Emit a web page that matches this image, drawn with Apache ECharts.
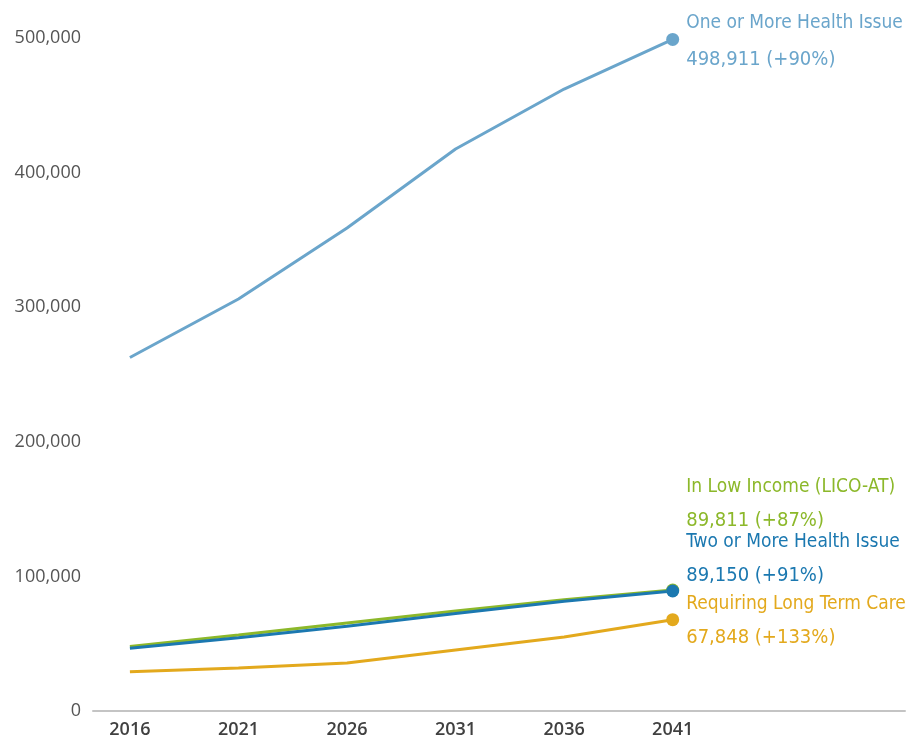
<!DOCTYPE html>
<html>
<head>
<meta charset="utf-8">
<title>Seniors projection</title>
<script src="https://cdn.jsdelivr.net/npm/echarts@6/dist/echarts.min.js"></script>
<style>
  html, body { margin: 0; padding: 0; background: #fff; }
  #chart { width: 911px; height: 739px; }
</style>
</head>
<body>
<div id="chart"></div>
<script>
// years and values
var years = [2016, 2021, 2026, 2031, 2036, 2041];
var yTicks = [0, 100000, 200000, 300000, 400000, 500000];

var oneOrMore = [262600, 306100, 358800, 417500, 462100, 498911];
var lowIncome = [48000, 56500, 65400, 74300, 82600, 89811];
var twoOrMore = [46700, 54500, 63000, 72400, 81500, 89150];
var longTermCare = [29100, 32000, 35700, 45300, 55000, 67848];

var names = ['One or More Health Issue', 'In Low Income (LICO-AT)', 'Two or More Health Issue', 'Requiring Long Term Care'];
var endText = ['498,911 (+90%)', '89,811 (+87%)', '89,150 (+91%)', '67,848 (+133%)'];
var colors = ['#6aa5cb', '#8cb82a', '#1b78b0', '#e3a91d'];

var labelFont = '"Liberation Sans Narrow", "DejaVu Sans Condensed", "Roboto", sans-serif';

function pairs(vals) {
    return vals.map(function (v, i) { return [years[i], v]; });
}

function makeSeries(idx, vals, offsetY, gap) {
    var last = vals.length - 1;
    return {
        name: names[idx],
        type: 'line',
        data: pairs(vals),
        clip: false,
        smooth: false,
        symbol: 'circle',
        symbolSize: function (val, params) { return params.dataIndex === last ? 13 : 0; },
        lineStyle: { color: colors[idx], width: 3 },
        itemStyle: { color: colors[idx] },
        label: {
            show: true,
            position: 'right',
            distance: 7,
            offset: [0, offsetY],
            formatter: function (p) {
                if (p.dataIndex !== last) return '';
                return '{t|' + names[idx] + '}\n{v|' + endText[idx] + '}';
            },
            rich: {
                t: { fontFamily: labelFont, fontSize: 19, color: colors[idx], height: gap, lineHeight: gap },
                v: { fontFamily: labelFont, fontSize: 20, color: colors[idx], height: gap, lineHeight: gap }
            }
        },
        emphasis: { disabled: true }
    };
}

var option = {
    backgroundColor: '#fff',
    animation: false,
    grid: { left: 93, right: 6, top: 38, bottom: 28, outerBoundsMode: 'none', containLabel: false },
    xAxis: {
        type: 'value',
        min: 2014.3,
        max: 2051.7,
        splitLine: { show: false },
        axisTick: { show: false },
        axisLine: { show: true, onZero: false, lineStyle: { color: '#c4c4c4', width: 2 } },
        axisLabel: {
            customValues: years,
            margin: 10,
            fontSize: 18,
            fontWeight: 600,
            color: '#404040',
            fontFamily: '"Open Sans", "Noto Sans", sans-serif',
            formatter: function (v) { return String(v); }
        }
    },
    yAxis: {
        type: 'value',
        min: 0,
        max: 500000,
        interval: 100000,
        splitLine: { show: false },
        axisLine: { show: false },
        axisTick: { show: false },
        axisLabel: {
            margin: 12,
            fontSize: 18,
            color: '#555',
            fontFamily: '"Open Sans", "Noto Sans", sans-serif',
            formatter: function (v) { return v.toLocaleString('en-US'); }
        }
    },
    series: [
        makeSeries(0, oneOrMore, 2, 36),
        makeSeries(1, lowIncome, -86, 34),
        makeSeries(2, twoOrMore, -32, 33),
        makeSeries(3, longTermCare, 1, 34)
    ]
};

var myChart = echarts.init(document.getElementById('chart'));
myChart.setOption(option);
</script>
</body>
</html>
